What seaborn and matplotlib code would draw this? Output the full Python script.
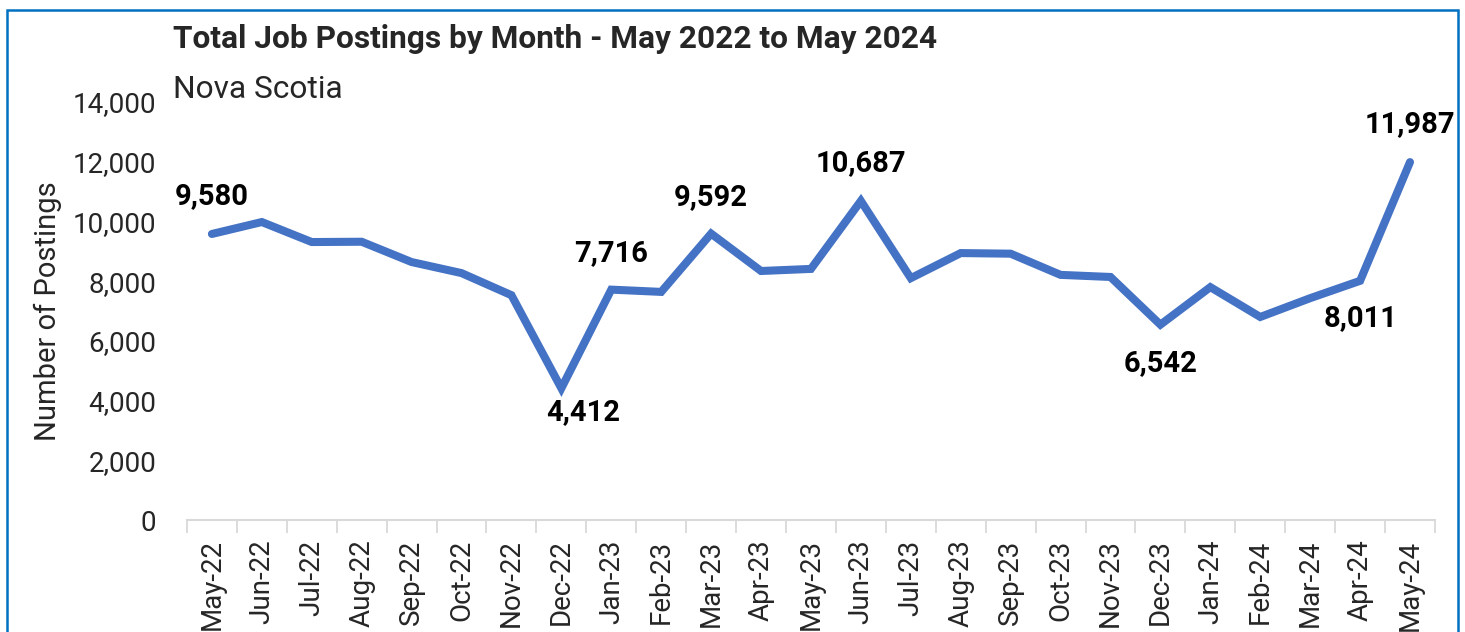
import seaborn as sns
import pandas as pd
import matplotlib.pyplot as plt
from matplotlib import ticker
from matplotlib.patches import Rectangle

months = ["May-22", "Jun-22", "Jul-22", "Aug-22", "Sep-22", "Oct-22", "Nov-22",
          "Dec-22", "Jan-23", "Feb-23", "Mar-23", "Apr-23", "May-23", "Jun-23",
          "Jul-23", "Aug-23", "Sep-23", "Oct-23", "Nov-23", "Dec-23", "Jan-24",
          "Feb-24", "Mar-24", "Apr-24", "May-24"]
postings = [9580, 9980, 9310, 9320, 8640, 8270, 7530,
            4412, 7716, 7640, 9592, 8340, 8410, 10687,
            8100, 8940, 8920, 8210, 8140, 6542, 7800,
            6800, 7430, 8011, 11987]

# labelled points: index into months, offset of label centre in points
label_idx = [0, 7, 8, 10, 13, 19, 23, 24]
label_off = [(0, 27), (16, -17), (0, 26), (0, 26), (0, 27), (0, -28), (0, -27), (0, 27)]


def plot():
    sns.set_theme(style="white")
    plt.rcParams["font.family"] = ["Roboto", "DejaVu Sans"]

    df = pd.DataFrame({"month": months, "postings": postings})

    fig = plt.figure(figsize=(14.65, 6.32), dpi=100)
    ax = fig.add_axes([0.1276, 0.1772, 0.8519, 0.6614])

    sns.lineplot(data=df, x="month", y="postings", ax=ax, sort=False,
                 color="#4472C4", linewidth=5.8, solid_capstyle="round",
                 solid_joinstyle="miter")

    for i, (dx, dy) in zip(label_idx, label_off):
        ax.annotate(f"{postings[i]:,}", (i, postings[i]), xytext=(dx, dy),
                    textcoords="offset points", ha="center", va="center",
                    fontsize=21, fontweight="bold", color="black")

    ax.set_xlim(-0.5, len(months) - 0.5)
    ax.set_ylim(0, 14000)
    ax.yaxis.set_major_locator(ticker.MultipleLocator(2000))
    ax.yaxis.set_major_formatter(ticker.FuncFormatter(lambda v, p: f"{v:,.0f}"))

    ax.set_xticks(range(len(months)))
    ax.set_xticklabels(months, rotation=90)
    ax.set_xticks([i - 0.5 for i in range(len(months) + 1)], minor=True)
    ax.tick_params(axis="x", which="major", length=0, pad=14, labelsize=20)
    ax.tick_params(axis="x", which="minor", bottom=True, length=9,
                   width=1.3, color="#D9D9D9")
    ax.tick_params(axis="y", length=0, pad=22, labelsize=20)

    for side in ["left", "right", "top"]:
        ax.spines[side].set_visible(False)
    ax.spines["bottom"].set_color("#D9D9D9")
    ax.spines["bottom"].set_linewidth(1.5)

    ax.set_xlabel("")
    ax.set_ylabel("Number of Postings", fontsize=21)
    ax.yaxis.set_label_coords(-0.100, 0.5)

    fig.text(0.118, 0.924, "Total Job Postings by Month - May 2022 to May 2024",
             fontsize=22.8, fontweight="bold", va="baseline", ha="left")
    fig.text(0.118, 0.845, "Nova Scotia", fontsize=22.8, va="baseline", ha="left")

    fig.patches.append(Rectangle((7 / 1465, -0.1), 1451 / 1465, 1.1 - 10 / 632,
                                 transform=fig.transFigure, fill=False,
                                 edgecolor="#0070C0", linewidth=1.8))

    plt.savefig("out.png", dpi=100)


if __name__ == '__main__':
    plot()
